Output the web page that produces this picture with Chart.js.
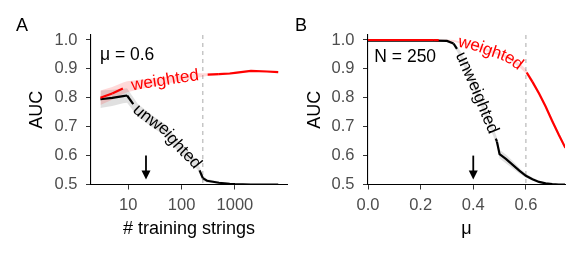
<!DOCTYPE html>
<html><head><meta charset="utf-8">
<script src="https://cdn.jsdelivr.net/npm/chart.js@4.4.1/dist/chart.umd.min.js"></script>
<style>
html,body{margin:0;padding:0;background:#fff;}
#wrap{display:flex;width:581px;height:255px;}
canvas{display:block;}
</style></head><body>
<div id="wrap"><canvas id="cA" width="290" height="255"></canvas><canvas id="cB" width="291" height="255"></canvas></div>
<script>
const FONT = "'Liberation Sans', Arial, Helvetica, sans-serif";

// ---------- Panel A data (x = # training strings, log scale) ----------
const nTrain = [3, 5, 8, 9.5, 15, 30, 50, 70, 100, 150, 200, 250, 300, 500, 800, 1000, 2000, 4000, 6500];
const aucWeightedA    = [0.800,0.815,0.833,0.838,0.845,0.854,0.860,0.865,0.869,0.874,0.877,0.879,0.880,0.882,0.884,0.886,0.893,0.891,0.889];
const aucWeightedA_lo = [0.775,0.793,0.813,0.819,0.828,0.840,0.848,0.854,0.859,0.865,0.869,0.873,0.875,0.878,0.880,0.883,0.890,0.888,0.886];
const aucWeightedA_hi = [0.825,0.837,0.853,0.857,0.862,0.868,0.872,0.876,0.879,0.883,0.885,0.885,0.885,0.886,0.888,0.889,0.896,0.894,0.892];
const aucUnweightedA    = [0.795,0.800,0.806,0.808,0.757,0.715,0.688,0.653,0.620,0.590,0.565,0.522,0.513,0.506,0.502,0.501,0.500,0.500,0.500];
const aucUnweightedA_lo = [0.765,0.772,0.781,0.783,0.735,0.695,0.668,0.633,0.602,0.574,0.551,0.512,0.507,0.502,0.499,0.499,0.498,0.498,0.498];
const aucUnweightedA_hi = [0.825,0.828,0.831,0.833,0.779,0.735,0.708,0.673,0.638,0.606,0.579,0.532,0.519,0.510,0.505,0.503,0.502,0.502,0.502];
const xTicksA = [10, 100, 1000];
const vlineA = 250;
const arrowA = 21.5;

// ---------- Panel B data (x = mu) ----------
const muValues = [0,0.05,0.1,0.15,0.2,0.25,0.3,0.325,0.35,0.375,0.4,0.425,0.45,0.475,0.49,0.5,0.525,0.55,0.575,0.6,0.625,0.65,0.675,0.7,0.725,0.75];
const aucWeightedB    = [1.000,1.000,1.000,1.000,1.000,1.000,0.999,0.997,0.992,0.987,0.982,0.975,0.966,0.958,0.954,0.951,0.943,0.929,0.913,0.892,0.855,0.815,0.770,0.720,0.672,0.627];
const aucWeightedB_lo = [0.997,0.997,0.997,0.997,0.997,0.997,0.996,0.994,0.989,0.983,0.978,0.970,0.961,0.953,0.949,0.946,0.937,0.922,0.906,0.884,0.847,0.807,0.762,0.712,0.664,0.619];
const aucWeightedB_hi = [1.003,1.003,1.003,1.003,1.003,1.003,1.002,1.000,0.995,0.991,0.986,0.980,0.971,0.963,0.959,0.956,0.949,0.936,0.920,0.900,0.863,0.823,0.778,0.728,0.680,0.635];
const aucUnweightedB    = [0.998,0.998,0.998,0.998,0.998,0.998,0.997,0.988,0.952,0.900,0.850,0.795,0.738,0.685,0.648,0.605,0.588,0.568,0.548,0.530,0.518,0.509,0.504,0.501,0.500,0.500];
const aucUnweightedB_lo = [0.996,0.996,0.996,0.996,0.996,0.996,0.994,0.982,0.940,0.885,0.835,0.780,0.723,0.670,0.633,0.590,0.573,0.555,0.538,0.523,0.513,0.505,0.501,0.499,0.498,0.498];
const aucUnweightedB_hi = [1.000,1.000,1.000,1.000,1.000,1.000,1.000,0.994,0.964,0.915,0.865,0.810,0.753,0.700,0.663,0.620,0.603,0.581,0.558,0.537,0.523,0.513,0.507,0.503,0.502,0.502];
const xTicksB = [0, 0.2, 0.4, 0.6];
const vlineB = 0.6;
const arrowB = 0.4;

const yTicks = [0.5, 0.6, 0.7, 0.8, 0.9, 1.0];
const arrowTop = 0.60, arrowTip = 0.517;

const LABEL_SIZE = 17;

// ---------- helpers ----------
function pointAt(info, s) {
  const {pts, cum} = info; const n = pts.length;
  let i = 0;
  while (i < n - 2 && cum[i + 1] < s) i++;
  const L = (cum[i + 1] - cum[i]) || 1; const t = (s - cum[i]) / L;
  return {x: pts[i].x + t * (pts[i + 1].x - pts[i].x), y: pts[i].y + t * (pts[i + 1].y - pts[i].y)};
}
function segStyle(c) {
  const info = c.chart.$pathInfo && c.chart.$pathInfo[c.datasetIndex];
  if (!info) return {};
  const i = c.p0DataIndex;
  const s0 = info.cum[i], s1 = info.cum[i + 1];
  const a = info.a, b = info.b;
  if (s1 <= a || s0 >= b) return {};
  if (s0 >= a && s1 <= b) return {color: 'rgba(0,0,0,0)'};
  if (s0 < a && s1 <= b) return {dash: [a - s0, 1e5], offset: 0};
  if (s0 >= a && s1 > b) return {dash: [1e5, b - s0], offset: 1e5};
  return {dash: [a - s0, b - a, 1e5, 0], offset: 0};
}
const gapSegment = {
  borderColor: c => segStyle(c).color,
  borderDash: c => segStyle(c).dash,
  borderDashOffset: c => segStyle(c).offset
};

const pathTextPlugin = {
  id: 'pathText',
  afterLayout(chart) {
    const ctx = chart.ctx; chart.$pathInfo = {};
    const xs = chart.scales.x, ys = chart.scales.y;
    chart.data.datasets.forEach((ds, di) => {
      const lab = ds.pathLabel; if (!lab) return;
      const pts = ds.data.map(p => ({x: xs.getPixelForValue(p.x), y: ys.getPixelForValue(p.y)}));
      const cum = [0];
      for (let i = 1; i < pts.length; i++) cum.push(cum[i - 1] + Math.hypot(pts[i].x - pts[i - 1].x, pts[i].y - pts[i - 1].y));
      ctx.save(); ctx.font = LABEL_SIZE + 'px ' + FONT; const W = ctx.measureText(lab.text).width; ctx.restore();
      const xc = xs.getPixelForValue(lab.at);
      let sc = 0;
      for (let i = 0; i < pts.length - 1; i++) {
        if (xc >= pts[i].x && xc <= pts[i + 1].x) {
          const t = (xc - pts[i].x) / ((pts[i + 1].x - pts[i].x) || 1);
          sc = cum[i] + t * (cum[i + 1] - cum[i]); break;
        }
      }
      chart.$pathInfo[di] = {pts, cum, W, sc, a: sc - W / 2 - lab.padBefore, b: sc + W / 2 + lab.padAfter, lab, color: ds.borderColor};
    });
  },
  beforeDatasetsDraw(chart) {
    const ctx = chart.ctx, xs = chart.scales.x, a = chart.chartArea;
    const x = xs.getPixelForValue(chart.options.plugins.pathText.vline);
    ctx.save();
    ctx.strokeStyle = '#b8b8b8'; ctx.lineWidth = 1.2; ctx.setLineDash([4, 4]);
    ctx.beginPath(); ctx.moveTo(x, a.top); ctx.lineTo(x, a.bottom); ctx.stroke();
    ctx.restore();
  },
  afterDatasetsDraw(chart) {
    const ctx = chart.ctx;
    Object.values(chart.$pathInfo || {}).forEach(info => {
      const text = info.lab.text;
      ctx.save();
      ctx.font = LABEL_SIZE + 'px ' + FONT; ctx.fillStyle = info.color;
      ctx.textAlign = 'center'; ctx.textBaseline = 'middle';
      const s0 = info.sc - info.W / 2;
      for (let k = 0; k < text.length; k++) {
        const off = ctx.measureText(text.slice(0, k)).width;
        const w = ctx.measureText(text[k]).width;
        const s = s0 + off + w / 2;
        const p = pointAt(info, s), p1 = pointAt(info, s - 6), p2 = pointAt(info, s + 6);
        const ang = Math.atan2(p2.y - p1.y, p2.x - p1.x);
        ctx.save(); ctx.translate(p.x, p.y); ctx.rotate(ang); ctx.fillText(text[k], 0, info.lab.dy || 0); ctx.restore();
      }
      ctx.restore();
    });
  },
  afterDraw(chart) {
    const o = chart.options.plugins.pathText;
    const ctx = chart.ctx, xs = chart.scales.x, ys = chart.scales.y;
    // arrow
    const ax = xs.getPixelForValue(o.arrow), y1 = ys.getPixelForValue(arrowTop), y2 = ys.getPixelForValue(arrowTip);
    ctx.save();
    ctx.strokeStyle = '#000'; ctx.fillStyle = '#000'; ctx.lineWidth = 1.8;
    ctx.beginPath(); ctx.moveTo(ax, y1); ctx.lineTo(ax, y2 - 6); ctx.stroke();
    ctx.beginPath(); ctx.moveTo(ax - 4.5, y2 - 9); ctx.lineTo(ax + 4.5, y2 - 9); ctx.lineTo(ax, y2); ctx.closePath(); ctx.fill();
    // annotation
    ctx.font = '17.5px ' + FONT; ctx.textAlign = 'left'; ctx.textBaseline = 'middle';
    ctx.fillText(o.note.text, xs.getPixelForValue(o.note.x), ys.getPixelForValue(o.note.y));
    // panel letter
    ctx.font = '18px ' + FONT;
    ctx.fillText(o.letter.text, o.letter.x, o.letter.y);
    ctx.restore();
  }
};

function makePanel(id, cfg) {
  const pts = (xs, ys) => xs.map((x, i) => ({x, y: ys[i]}));
  const datasets = [
    {label: 'weighted', data: pts(cfg.x, cfg.w), borderColor: '#ff0000', borderWidth: 2.2, pointRadius: 0, fill: false, pathLabel: cfg.labels.weighted, segment: gapSegment},
    {label: 'unweighted', data: pts(cfg.x, cfg.u), borderColor: '#000000', borderWidth: 2.2, pointRadius: 0, fill: false, pathLabel: cfg.labels.unweighted, segment: gapSegment},
    {label: 'w_lo', data: pts(cfg.x, cfg.wlo), borderWidth: 0, borderColor: 'rgba(0,0,0,0)', pointRadius: 0, fill: '+1', backgroundColor: 'rgba(255,0,0,0.15)'},
    {label: 'w_hi', data: pts(cfg.x, cfg.whi), borderWidth: 0, borderColor: 'rgba(0,0,0,0)', pointRadius: 0, fill: false},
    {label: 'u_lo', data: pts(cfg.x, cfg.ulo), borderWidth: 0, borderColor: 'rgba(0,0,0,0)', pointRadius: 0, fill: '+1', backgroundColor: 'rgba(0,0,0,0.12)'},
    {label: 'u_hi', data: pts(cfg.x, cfg.uhi), borderWidth: 0, borderColor: 'rgba(0,0,0,0)', pointRadius: 0, fill: false}
  ];
  const tickFont = {family: FONT, size: 16.5};
  const titleFont = {family: FONT, size: 18};
  return new Chart(document.getElementById(id), {
    type: 'line',
    data: {datasets},
    plugins: [pathTextPlugin],
    options: {
      responsive: false, animation: false, devicePixelRatio: 1, events: [],
      layout: {padding: {top: 35, right: cfg.padRight, left: 0, bottom: 0}},
      plugins: {legend: {display: false}, tooltip: {enabled: false},
        pathText: {vline: cfg.vline, arrow: cfg.arrow, note: cfg.note, letter: cfg.letter}},
      scales: {
        x: {
          type: cfg.xType, min: cfg.xMin, max: cfg.xMax, position: 'bottom', bounds: 'data',
          grid: {display: true, drawOnChartArea: false, drawTicks: true, tickLength: 5, color: '#333333', lineWidth: 1},
          border: {display: true, color: '#000000', width: 1.1},
          ticks: {font: tickFont, color: '#4d4d4d', padding: 6.5, maxRotation: 0, autoSkip: false,
                  callback: v => cfg.xFmt(v)},
          afterBuildTicks: s => { s.ticks = cfg.xTicks.map(v => ({value: v})); },
          afterFit: s => { s.height = 70.5; },
          title: {display: true, text: cfg.xTitle, color: '#000000', font: titleFont, padding: {top: 0, bottom: 15.5}}
        },
        y: {
          type: 'linear', min: 0.5, max: 1.0173, position: 'left', bounds: 'data',
          grid: {display: true, drawOnChartArea: false, drawTicks: true, tickLength: 5, color: '#333333', lineWidth: 1},
          border: {display: true, color: '#000000', width: 1.1},
          ticks: {font: tickFont, color: '#4d4d4d', padding: 8.5, autoSkip: false, callback: v => Number(v).toFixed(1)},
          afterBuildTicks: s => { s.ticks = yTicks.map(v => ({value: v})); },
          afterFit: s => { s.width = cfg.yWidth; },
          title: {display: true, text: 'AUC', color: '#000000', font: titleFont, padding: {top: cfg.yTitlePad, bottom: 0}}
        }
      }
    }
  });
}

makePanel('cA', {
  x: nTrain, w: aucWeightedA, wlo: aucWeightedA_lo, whi: aucWeightedA_hi,
  u: aucUnweightedA, ulo: aucUnweightedA_lo, uhi: aucUnweightedA_hi,
  xType: 'logarithmic', xMin: 2.0, xMax: 9490, xTicks: xTicksA, xFmt: v => String(v),
  xTitle: '# training strings', yWidth: 91, yTitlePad: 26.5, padRight: 3,
  vline: vlineA, arrow: arrowA,
  note: {text: 'μ = 0.6', x: 2.95, y: 0.948},
  letter: {text: 'A', x: 16, y: 26},
  labels: {
    weighted: {text: 'weighted', at: 49, padBefore: 9, padAfter: 9},
    unweighted: {text: 'unweighted', at: 58, padBefore: 4, padAfter: 4}
  }
});

makePanel('cB', {
  x: muValues, w: aucWeightedB, wlo: aucWeightedB_lo, whi: aucWeightedB_hi,
  u: aucUnweightedB, ulo: aucUnweightedB_lo, uhi: aucUnweightedB_hi,
  xType: 'linear', xMin: 0, xMax: 0.7486, xTicks: xTicksB, xFmt: v => Number(v).toFixed(1),
  xTitle: 'μ', yWidth: 78, yTitlePad: 14.5, padRight: 16,
  vline: vlineB, arrow: arrowB,
  note: {text: 'N = 250', x: 0.024, y: 0.941},
  letter: {text: 'B', x: 5, y: 26},
  labels: {
    weighted: {text: 'weighted', at: 0.468, padBefore: 20, padAfter: 8},
    unweighted: {text: 'unweighted', at: 0.415, padBefore: 5, padAfter: 6}
  }
});
</script>
</body></html>
